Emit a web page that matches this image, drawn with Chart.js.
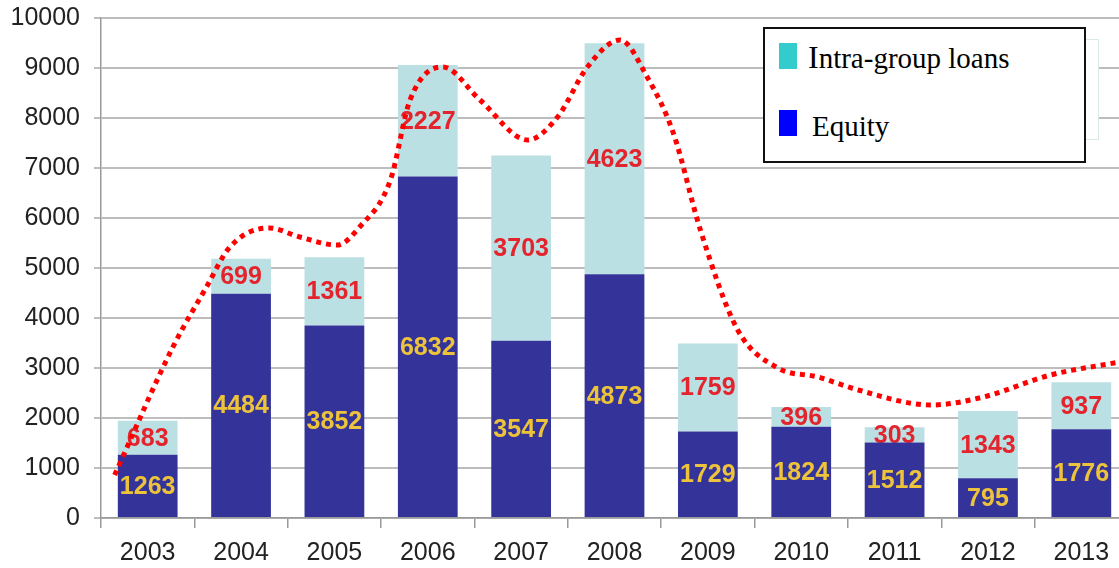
<!DOCTYPE html>
<html>
<head>
<meta charset="utf-8">
<script src="https://cdn.jsdelivr.net/npm/chart.js@4.4.1/dist/chart.umd.min.js"></script>
<style>
  html, body { margin: 0; padding: 0; overflow: hidden; background: #fff; }
  #wrap { position: relative; width: 1128px; height: 568px; }
  #ghost { position: absolute; left: 800px; top: 39px; width: 297px; height: 99px; border: 1px solid #d9e9e9; background: #fff; }
  #legend { position: absolute; left: 763px; top: 27px; width: 319px; height: 132px; border: 2px solid #111; background: #fff;
    font-family: "Liberation Serif", "Times New Roman", serif; font-size: 29px; color: #000; }
  .sw { position: absolute; left: 14px; width: 18px; height: 26px; }
  .lbl { position: absolute; white-space: nowrap; line-height: 30px; }
</style>
</head>
<body>
<div id="wrap">
  <canvas id="js-fdi-chart" width="1128" height="568"></canvas>
  <div id="ghost"></div>
  <div id="legend">
    <div class="sw" style="top:14px;background:#33cccc"></div>
    <div class="lbl" style="left:43px;top:13px"><span style="font-size:32px">I</span>ntra-group loans</div>
    <div class="sw" style="top:81px;background:#0000ff"></div>
    <div class="lbl" style="left:47px;top:82px">Equity</div>
  </div>
</div>
<script>
const years = ['2003', '2004', '2005', '2006', '2007', '2008', '2009', '2010', '2011', '2012', '2013'];
const equity = [1263, 4484, 3852, 6832, 3547, 4873, 1729, 1824, 1512, 795, 1776];
const loans = [683, 699, 1361, 2227, 3703, 4623, 1759, 396, 303, 1343, 937];
const yTicks = [0, 1000, 2000, 3000, 4000, 5000, 6000, 7000, 8000, 9000, 10000];
// hand drawn trend curve, x in year index units
const curveIdx = [-0.354, 0.27, 0.63, 0.88, 1.3, 1.63, 2.03, 2.27, 2.6, 2.81, 3.16, 3.56, 4.07, 4.39, 4.71, 5.06, 5.35, 5.63, 5.92, 6.32, 6.75, 7.18, 7.61, 8.39, 8.95, 9.67, 10.41];
const curveVal = [860, 3420, 4620, 5420, 5800, 5620, 5460, 5820, 6760, 8360, 9020, 8360, 7560, 8020, 9020, 9560, 8820, 7700, 5760, 3760, 3000, 2820, 2560, 2260, 2420, 2860, 3120];

const labelColors = ['#ecc33a', '#e3242d'];

const barLabels = {
  id: 'barLabels',
  afterDatasetDraw(chart, args) {
    if (args.index > 1) return;
    const ctx = chart.ctx;
    const meta = args.meta;
    const values = args.index === 0 ? equity : loans;
    ctx.save();
    ctx.font = 'bold 25px "Liberation Sans", Arial, sans-serif';
    ctx.textAlign = 'center';
    ctx.textBaseline = 'middle';
    ctx.fillStyle = labelColors[args.index];
    meta.data.forEach((bar, i) => {
      ctx.fillText(values[i], bar.x, (bar.y + bar.base) / 2 + 1);
    });
    ctx.restore();
  }
};

var chartCanvas = document.getElementById('js-fdi-chart').getContext('2d');

var fdiChart = new Chart(chartCanvas, {
  type: 'bar',
  data: {
    labels: years,
    datasets: [{
      label: 'Equity',
      data: equity,
      backgroundColor: '#333399',
      order: 1,
      grouped: false,
      categoryPercentage: 1,
      barPercentage: 0.64
    },
    {
      label: 'Intra-group loans',
      data: loans,
      backgroundColor: '#bbe0e4',
      order: 1,
      grouped: false,
      categoryPercentage: 1,
      barPercentage: 0.64
    },
    {
      type: 'line',
      label: 'trend',
      data: curveIdx.map((x, i) => ({ x: x, y: curveVal[i] })),
      xAxisID: 'xc',
      yAxisID: 'yc',
      order: 0,
      borderColor: '#ff0000',
      borderWidth: 5,
      borderDash: [5, 5],
      borderCapStyle: 'butt',
      cubicInterpolationMode: 'monotone',
      pointRadius: 0,
      fill: false
    }]
  },
  options: {
    responsive: false,
    animation: false,
    layout: { padding: { top: 18, left: 0, right: 0, bottom: 0 } },
    plugins: { legend: { display: false }, tooltip: { enabled: false } },
    scales: {
      x: {
        stacked: true,
        afterFit(s) { s.height = 50; s.paddingLeft = 0; s.paddingRight = 0; },
        grid: { drawOnChartArea: false, drawTicks: true, tickLength: 10, color: '#999', lineWidth: 1.5 },
        border: { display: true, color: '#999', width: 1.5 },
        ticks: { color: '#222', padding: 10, font: { family: '"Liberation Sans", Arial, sans-serif', size: 25 } }
      },
      xc: {
        type: 'linear',
        display: false,
        offset: false,
        grid: { offset: false },
        min: -0.5,
        max: 10.5
      },
      y: {
        stacked: true,
        min: 0,
        max: 10000,
        afterFit(s) { s.width = 101; s.paddingTop = 0; s.paddingBottom = 0; },
        afterBuildTicks(s) { s.ticks = yTicks.map(v => ({ value: v })); },
        grid: { color: '#bdbdbd', lineWidth: 2, tickLength: 7 },
        border: { display: true, color: '#999', width: 1.5 },
        ticks: {
          color: '#222', padding: 14,
          font: { family: '"Liberation Sans", Arial, sans-serif', size: 25 },
          callback: v => String(v)
        }
      },
      yc: {
        type: 'linear',
        display: false,
        min: 0,
        max: 10000
      }
    }
  },
  plugins: [barLabels]
});
</script>
</body>
</html>
